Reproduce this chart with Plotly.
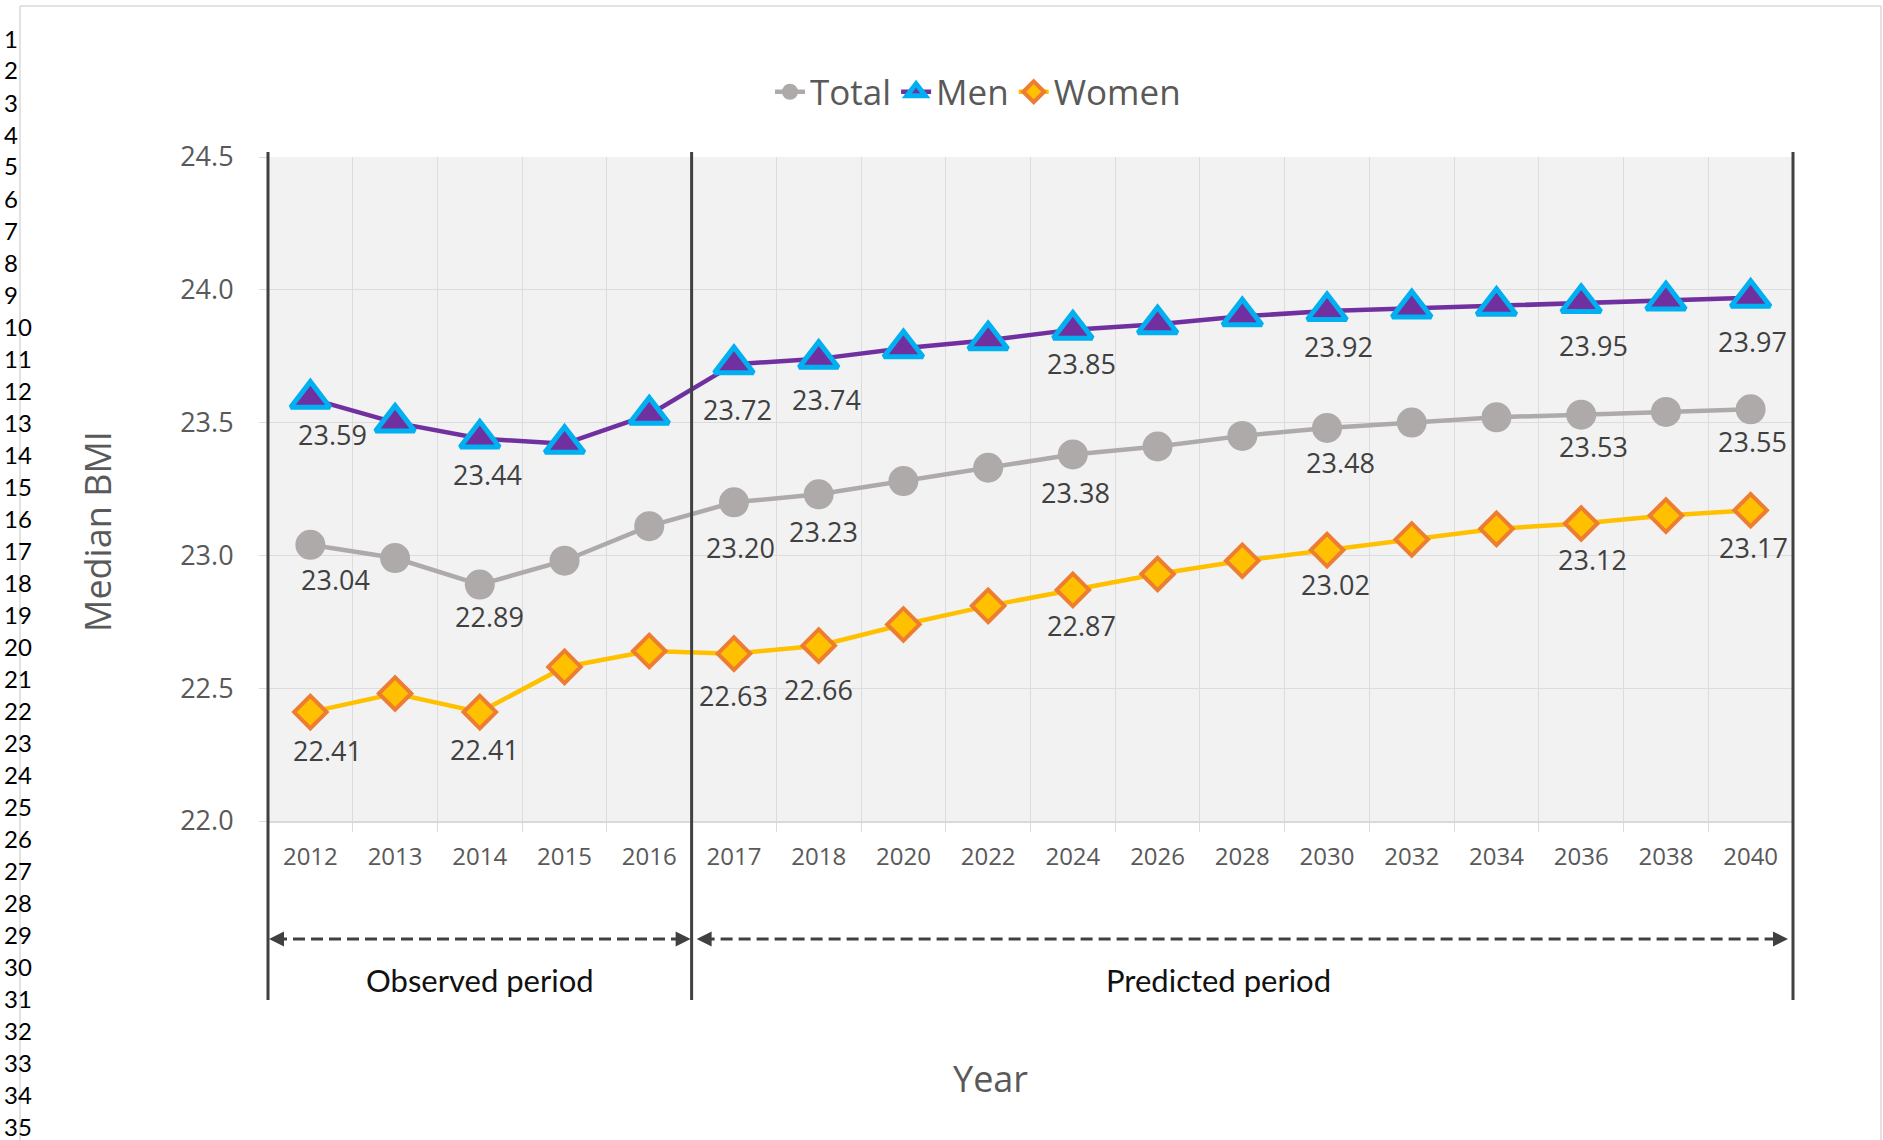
import plotly.graph_objects as go

# ---------------- data ----------------
years = ["2012", "2013", "2014", "2015", "2016", "2017", "2018", "2020", "2022",
         "2024", "2026", "2028", "2030", "2032", "2034", "2036", "2038", "2040"]
total = [23.04, 22.99, 22.89, 22.98, 23.11, 23.20, 23.23, 23.28, 23.33,
         23.38, 23.41, 23.45, 23.48, 23.50, 23.52, 23.53, 23.54, 23.55]
men = [23.59, 23.50, 23.44, 23.42, 23.53, 23.72, 23.74, 23.78, 23.81,
       23.85, 23.87, 23.90, 23.92, 23.93, 23.94, 23.95, 23.96, 23.97]
women = [22.41, 22.48, 22.41, 22.58, 22.64, 22.63, 22.66, 22.74, 22.81,
         22.87, 22.93, 22.98, 23.02, 23.06, 23.10, 23.12, 23.15, 23.17]
labeled_years = ["2012", "2014", "2017", "2018", "2024", "2030", "2036", "2040"]
y_ticks = [22.0, 22.5, 23.0, 23.5, 24.0, 24.5]
n_observed = 5
period_labels = ["Observed period", "Predicted period"]
row_numbers = [str(i) for i in range(1, 36)]

# ---------------- geometry / style ----------------
W, H = 1883, 1140
ML, MR, MT, MB = 268, 90, 157, 319
PW, PH = W - ML - MR, H - MT - MB
FONT = "Open Sans"
TICK_COLOR = "#595959"
LABEL_COLOR = "#404040"
DARK = "#404040"


def pxx(px):
    return (px - ML) / PW


def pxy(py):
    return (H - MB - py) / PH


n_cat = len(years)


def boundary_paper(n_before):
    # paper x of the boundary after the first n_before categories
    return n_before / n_cat


# label offsets in pixels (dx right, dy down) for each labeled point
label_offsets = {
    "Total": [(25, 35), (10, 32), (7, 45), (5, 37), (3, 38), (13, 35), (12, 32), (2, 32)],
    "Men": [(22, 36), (8, 36), (4, 45), (8, 41), (9, 34), (11, 35), (12, 42), (2, 44)],
    "Women": [(17, 38), (5, 37), (0, 42), (0, 44), (9, 36), (8, 34), (11, 36), (3, 37)],
}

series = [
    ("Total", total, dict(symbol="circle", size=30, color="#AEAAAA",
                          line=dict(width=0, color="#AEAAAA")), "#AEAAAA"),
    ("Men", men, dict(symbol="triangle-up", size=34, color="#7030A0",
                      line=dict(width=5, color="#00B0F0")), "#7030A0"),
    ("Women", women, dict(symbol="diamond", size=25, color="#FFC000",
                          line=dict(width=4, color="#ED7D31")), "#FFC000"),
]

fig = go.Figure()
for name, vals, mk, lc in series:
    fig.add_trace(go.Scatter(
        x=years, y=vals, name=name, mode="lines+markers",
        line=dict(color=lc, width=4.5), marker=mk, cliponaxis=False,
        hoverinfo="skip",
    ))

annotations = []
# data labels
for name, vals, mk, lc in series:
    offs = label_offsets[name]
    for k, yr in enumerate(labeled_years):
        i = years.index(yr)
        dx, dy = offs[k]
        annotations.append(dict(
            x=i, y=vals[i], xref="x", yref="y", text=f"{vals[i]:.2f}",
            showarrow=False, xanchor="center", yanchor="middle",
            xshift=dx, yshift=-dy,
            font=dict(family=FONT, size=27, color=LABEL_COLOR),
        ))

# y axis title
annotations.append(dict(
    x=pxx(97), y=pxy(532), xref="paper", yref="paper", text="Median BMI",
    textangle=-90, showarrow=False, xanchor="center", yanchor="middle",
    font=dict(family=FONT, size=36, color=TICK_COLOR)))
# x axis title
annotations.append(dict(
    x=pxx(990), y=pxy(1078), xref="paper", yref="paper", text="Year",
    showarrow=False, xanchor="center", yanchor="middle",
    font=dict(family=FONT, size=36, color=TICK_COLOR)))
# period labels
annotations.append(dict(
    x=(boundary_paper(0) + boundary_paper(n_observed)) / 2, y=pxy(980),
    xref="paper", yref="paper", text=period_labels[0], showarrow=False,
    xanchor="center", yanchor="middle",
    font=dict(family="Lato", size=31, color="#111111")))
annotations.append(dict(
    x=pxx(1218), y=pxy(980), xref="paper", yref="paper", text=period_labels[1],
    showarrow=False, xanchor="center", yanchor="middle",
    font=dict(family="Lato", size=31, color="#111111")))

# row numbers on the left
for k, r in enumerate(row_numbers):
    annotations.append(dict(
        x=pxx(2), y=pxy(38 + 32 * k), xref="paper", yref="paper", text=r,
        showarrow=False, xanchor="left", yanchor="middle",
        font=dict(family="Lato", size=24, color="#000000")))

# arrows (double-headed dashed)
arrow_y = pxy(939)
arrow_spans = [
    (boundary_paper(0) + 1 / PW, boundary_paper(n_observed) - 1 / PW),
    (boundary_paper(n_observed) + 5 / PW, boundary_paper(n_cat) - 5 / PW),
]
shapes = []
for x0, x1 in arrow_spans:
    shapes.append(dict(type="line", xref="paper", yref="paper",
                       x0=x0 + 6 / PW, x1=x1 - 6 / PW, y0=arrow_y, y1=arrow_y,
                       line=dict(color=DARK, width=3, dash="12px,6px")))
    for tip, off in ((x0, 16), (x1, -16)):
        annotations.append(dict(
            x=tip, y=arrow_y, xref="paper", yref="paper", text="",
            showarrow=True, ax=off, ay=0, arrowhead=2, arrowsize=1,
            arrowwidth=3, arrowcolor=DARK, standoff=0))

# black vertical separators
for b in (0, n_observed, n_cat):
    shapes.append(dict(type="line", xref="paper", yref="paper",
                       x0=boundary_paper(b), x1=boundary_paper(b),
                       y0=pxy(1000), y1=pxy(152),
                       line=dict(color=DARK, width=3)))

# outer light frame
fl, ft, fr, fb = pxx(20), pxy(6), pxx(1881), pxy(1150)
for (a, b_, c, d) in ((fl, fb, fl, ft), (fl, ft, fr, ft), (fr, ft, fr, fb)):
    shapes.append(dict(type="line", xref="paper", yref="paper",
                       x0=a, y0=b_, x1=c, y1=d,
                       line=dict(color="#D9D9D9", width=1.5)))

fig.update_layout(
    width=W, height=H,
    margin=dict(l=ML, r=MR, t=MT, b=MB, pad=0),
    paper_bgcolor="white", plot_bgcolor="#F2F2F2",
    font=dict(family=FONT, color=TICK_COLOR),
    showlegend=True,
    legend=dict(orientation="h", x=pxx(978), y=pxy(92), xanchor="center",
                yanchor="middle", font=dict(family=FONT, size=35, color=TICK_COLOR),
                bgcolor="rgba(0,0,0,0)", traceorder="normal"),
    annotations=annotations, shapes=shapes,
    hovermode=False,
)
fig.update_xaxes(
    type="category", categoryorder="array", categoryarray=years,
    range=[-0.5, n_cat - 0.5], tickson="boundaries",
    showgrid=True, gridcolor="#DCDCDC", gridwidth=1,
    ticks="outside", ticklen=9, tickcolor="#DCDCDC", tickwidth=1,
    showline=True, linecolor="#D9D9D9", linewidth=2,
    tickfont=dict(family=FONT, size=24, color=TICK_COLOR),
    ticklabelstandoff=13, zeroline=False, fixedrange=True,
)
fig.update_yaxes(
    range=[22.0, 24.5], tickvals=y_ticks, tickformat=".1f",
    showgrid=True, gridcolor="#DCDCDC", gridwidth=1,
    ticks="outside", ticklen=8, tickcolor="#DCDCDC", tickwidth=1,
    showline=False, zeroline=False,
    tickfont=dict(family=FONT, size=27, color=TICK_COLOR),
    ticklabelstandoff=20, fixedrange=True,
)

fig.write_html("out.html")
